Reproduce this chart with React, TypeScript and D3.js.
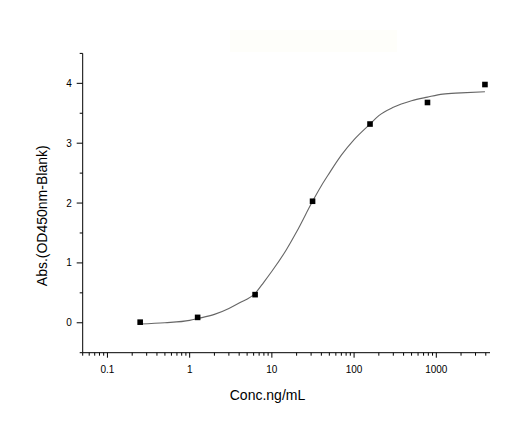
import * as d3 from "d3";

// measured standard points
const concentrations = [0.25, 1.25, 6.25, 31.25, 156.25, 781.25, 3906.25];
const absorbance = [0.01, 0.09, 0.47, 2.03, 3.32, 3.68, 3.98];

// fitted curve
const fitConc = [0.25, 0.5, 1, 1.25, 2, 3, 4, 6.25, 8, 10, 15, 20, 31.25, 40, 50, 70, 100, 156.25, 200, 300, 500, 781.25, 1200, 2000, 3906.25];
const fitAbs = [-0.02, 0.0, 0.04, 0.07, 0.14, 0.24, 0.33, 0.49, 0.68, 0.86, 1.22, 1.52, 2.03, 2.29, 2.5, 2.8, 3.06, 3.32, 3.46, 3.6, 3.71, 3.77, 3.82, 3.84, 3.86];

const xTickValues = [0.1, 1, 10, 100, 1000];
const xTickLabels = ["0.1", "1", "10", "100", "1000"];
const yTickValues = [0, 1, 2, 3, 4];
const yTickLabels = ["0", "1", "2", "3", "4"];

const width = 520;
const height = 434;
const left = 82.7;
const right = 490;
const top = 53.4;
const bottom = 352.7;
const font = "'Liberation Sans', Arial, sans-serif";

export default function App() {
    const x = d3.scaleLog([0.05, 4500], [left, right]);
    const y = d3.scaleLinear([-0.5, 4.5], [bottom, top]);
    const line = d3.line<number>((d, i) => x(fitConc[i]), (d) => y(d)).curve(d3.curveMonotoneX);
    const xMinor = x.ticks().filter((t) => t >= 0.05 && t <= 4500 && !xTickValues.includes(t));
    const yMinor = d3.range(-0.5, 4.51, 1);

    return (
        <svg width={width} height={height} style={{ position: "absolute", left: 0, top: 0, background: "white" }}>
            <rect x={230} y={30} width={167} height={22} fill="#fefefa" />
            <g stroke="black" strokeWidth={1} fill="none">
                <line x1={left} x2={left} y1={top} y2={bottom} />
                <line x1={left} x2={right} y1={bottom} y2={bottom} />
                {xTickValues.map((t) => <line key={"xM" + t} x1={x(t)} x2={x(t)} y1={bottom} y2={bottom + 5} />)}
                {xMinor.map((t) => <line key={"xm" + t} x1={x(t)} x2={x(t)} y1={bottom} y2={bottom + 3} />)}
                {yTickValues.map((t) => <line key={"yM" + t} x1={left - 6} x2={left} y1={y(t)} y2={y(t)} />)}
                {yMinor.map((t) => <line key={"ym" + t} x1={left - 3} x2={left} y1={y(t)} y2={y(t)} />)}
            </g>
            <g fontFamily={font} fontSize={10} fill="black">
                {xTickValues.map((t, i) => (
                    <text key={"xl" + t} x={x(t)} y={372.7} textAnchor="middle">{xTickLabels[i]}</text>
                ))}
                {yTickValues.map((t, i) => (
                    <text key={"yl" + t} x={left - 11} y={y(t)} dy="0.35em" textAnchor="end">{yTickLabels[i]}</text>
                ))}
            </g>
            <text x={267.5} y={400} textAnchor="middle" fontFamily={font} fontSize={14}>Conc.ng/mL</text>
            <text transform="translate(46.5,215.8) rotate(-90)" textAnchor="middle" fontFamily={font} fontSize={14}>Abs.(OD450nm-Blank)</text>
            <path d={line(fitAbs) as string} fill="none" stroke="#666" strokeWidth={1.1} />
            <g fill="black">
                {concentrations.map((c, i) => (
                    <rect key={i} x={x(c) - 2.8} y={y(absorbance[i]) - 2.8} width={5.6} height={5.6} />
                ))}
            </g>
        </svg>
    );
}
